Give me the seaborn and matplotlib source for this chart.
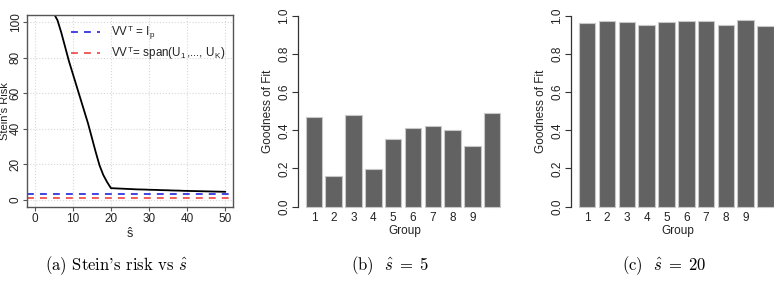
import matplotlib
matplotlib.use("Agg")
import matplotlib.pyplot as plt
import seaborn as sns

# Panel (a): Stein's risk against s-hat
s_hat = list(range(1, 51))
steins_risk = [150, 135, 122, 112, 105, 101, 94, 86, 78, 71,
               64, 57, 50, 43, 35, 27, 19.5, 14, 10, 6.6,
               6.5, 6.4, 6.3, 6.2, 6.1, 6.0, 5.9, 5.85, 5.8, 5.7,
               5.65, 5.6, 5.5, 5.45, 5.4, 5.3, 5.25, 5.2, 5.1, 5.05,
               5.0, 4.95, 4.9, 4.85, 4.8, 4.75, 4.7, 4.65, 4.6, 4.55]
risk_identity = 3.2
risk_span = 1.0

# Panels (b), (c): goodness of fit per group
groups = [str(i) for i in range(1, 11)]
group_ticklabels = ["1", "2", "3", "4", "5", "6", "7", "8", "9", ""]
gof_s5 = [0.468, 0.161, 0.478, 0.195, 0.354, 0.414, 0.421, 0.403, 0.318, 0.489]
gof_s20 = [0.960, 0.970, 0.969, 0.953, 0.965, 0.974, 0.974, 0.951, 0.976, 0.946]

sns.set_theme(style="white")
plt.rcParams['font.family'] = ['Liberation Sans', 'DejaVu Sans']
plt.rcParams['mathtext.fontset'] = 'cm'

TXT = "#222222"
W, H = 774, 284
fig = plt.figure(figsize=(W / 100, H / 100), dpi=100)


def px_axes(left, top, right, bottom):
    return fig.add_axes([left / W, 1 - bottom / H, (right - left) / W, (bottom - top) / H])


# ---- (a) ----
ax1 = px_axes(27, 15, 233, 207)
sns.lineplot(x=s_hat, y=steins_risk, color="black", lw=1.3, ax=ax1)
ax1.axhline(risk_identity, color="#1010dd", lw=1.1, ls=(0, (4.5, 4)),
            label=r"VV$^\mathregular{T}$ = I$_\mathregular{p}$")
ax1.axhline(risk_span, color="#f03030", lw=1.1, ls=(0, (4.5, 4)),
            label=r"VV$^\mathregular{T}$= span(U$_\mathregular{1}$,..., U$_\mathregular{K}$)")
ax1.set_xlim(-2, 52)
ax1.set_ylim(-4, 104)
ax1.set_xticks(range(0, 51, 10))
ax1.set_yticks(range(0, 101, 20))
ax1.grid(True, color="#d8d8d8", ls=":", lw=0.8)
for sp in ax1.spines.values():
    sp.set_color("#555555")
    sp.set_linewidth(1.0)
ax1.tick_params(axis="both", length=3, width=0.8, color="#555555",
                labelsize=8.5, labelcolor=TXT, pad=0.8, left=True, bottom=True)
ax1.tick_params(axis="x", pad=1.5)
plt.setp(ax1.get_yticklabels(), rotation=90, va="center")
ax1.set_xlabel(r"$\mathregular{\hat{s}}$", fontsize=9, color=TXT, labelpad=1)
ax1.set_ylabel("Stein's Risk", fontsize=8, color=TXT)
ax1.yaxis.set_label_coords(-0.082, 0.5)
ax1.legend(loc="upper left", bbox_to_anchor=(0.175, 1.0), frameon=False,
           fontsize=8.4, handlelength=2.5, handletextpad=0.9, labelspacing=0.2,
           borderaxespad=0.3, labelcolor=TXT)


# ---- (b), (c) ----
def bar_panel(ax, values, ylab_x):
    sns.barplot(x=groups, y=values, color="#626262", saturation=1, width=1 / 1.2,
                edgecolor="#c8c8c8", linewidth=0.8, ax=ax)
    ax.set_xlim(-0.8167, 9.983)
    ax.set_ylim(-0.04, 1.04)
    ax.set_yticks([0, 0.2, 0.4, 0.6, 0.8, 1.0])
    ax.set_yticklabels(["0.0", "0.2", "0.4", "0.6", "0.8", "1.0"], rotation=90, va="center")
    ax.set_xticks(range(10))
    ax.set_xticklabels(group_ticklabels)
    for k in ("top", "right", "bottom"):
        ax.spines[k].set_visible(False)
    ax.spines["left"].set_bounds(0, 1)
    ax.spines["left"].set_color("#333333")
    ax.spines["left"].set_linewidth(0.9)
    ax.tick_params(axis="y", length=4, width=0.8, color="#333333",
                   labelsize=8.5, labelcolor=TXT, pad=1.5, left=True)
    ax.tick_params(axis="x", length=0, labelsize=8.5, labelcolor=TXT, pad=-2)
    ax.set_xlabel("Group", fontsize=8.5, color=TXT, labelpad=1)
    ax.set_ylabel("Goodness of Fit", fontsize=8.5, color=TXT)
    ax.yaxis.set_label_coords(ylab_x, 0.5)


ax2 = px_axes(297.7, 8.1, 511.7, 214.3)
bar_panel(ax2, gof_s5, -0.11)
ax3 = px_axes(571, 8.1, 785, 214.3)
bar_panel(ax3, gof_s20, -0.11)

# captions
cap = dict(fontsize=12, ha="center", va="center", color="black", family="cmr10")
fig.text(116.5 / W, 1 - 266 / H, r"(a) Stein's risk vs $\hat{s}$", **cap)
fig.text(390 / W, 1 - 266 / H, r"(b)  $\hat{s}\;=\;5$", **cap)
fig.text(664 / W, 1 - 266 / H, r"(c)  $\hat{s}\;=\;20$", **cap)

fig.savefig("out.png", dpi=100)
